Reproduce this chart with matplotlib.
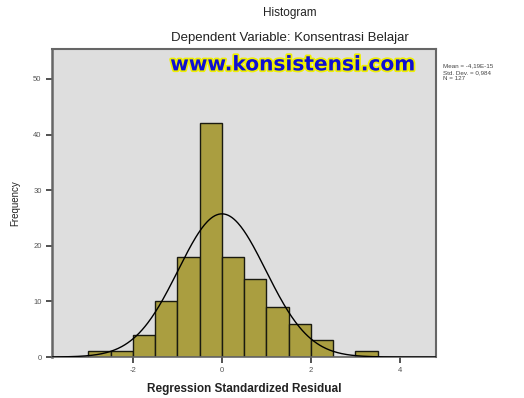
import numpy as np
import matplotlib
matplotlib.use("Agg")
import matplotlib.pyplot as plt
import matplotlib.patheffects as pe

# residual histogram bins (width 0.5) and counts
bin_edges = [-3.0, -2.5, -2.0, -1.5, -1.0, -0.5, 0.0, 0.5, 1.0, 1.5, 2.0, 2.5, 3.0, 3.5]
counts = [1, 1, 4, 10, 18, 42, 18, 14, 9, 6, 3, 0, 1]

mean = 0.0
std_dev = 0.984
n_cases = 127

x_ticks = [-2, 0, 2, 4]
y_ticks = [0, 10, 20, 30, 40, 50]

plt.rcParams["font.family"] = ["Liberation Sans", "DejaVu Sans"]
plt.rcParams["axes.unicode_minus"] = False

fig = plt.figure(figsize=(5.24, 3.98), dpi=100)
ax = fig.add_axes([0.0992, 0.103, 0.7328, 0.774])
ax.set_facecolor("#dedede")

lefts = bin_edges[:-1]
widths = np.diff(bin_edges)
ax.bar(lefts, counts, width=widths, align="edge",
       color="#aa9e40", edgecolor="#1a1a10", linewidth=1.0, zorder=2)

# fitted normal curve scaled to the histogram
xs = np.linspace(-3.8, 4.8, 400)
bw = widths[0]
pdf = np.exp(-0.5 * ((xs - mean) / std_dev) ** 2) / (std_dev * np.sqrt(2 * np.pi))
ax.plot(xs, n_cases * bw * pdf, color="black", linewidth=1.0, zorder=3)

ax.set_xlim(-3.82, 4.81)
ax.set_ylim(0, 55.4)
ax.set_xticks(x_ticks)
ax.set_yticks(y_ticks)
ax.tick_params(axis="both", direction="out", length=4, width=1.2,
               labelsize=5.5, labelcolor="#555555", color="#333333")

for side in ["top", "right", "left", "bottom"]:
    ax.spines[side].set_color("#666666")
ax.spines["left"].set_linewidth(1.8)
ax.spines["bottom"].set_linewidth(1.2)
ax.spines["top"].set_linewidth(1.5)
ax.spines["right"].set_linewidth(1.5)

ax.set_xlabel("Regression Standardized Residual", fontsize=8.5,
              fontweight="bold", color="#222222", labelpad=6)
ax.set_ylabel("Frequency", fontsize=7, color="#222222", labelpad=9)

fig.text(0.553, 0.968, "Histogram", ha="center", va="center",
         fontsize=8.5, color="#222222")
fig.text(0.553, 0.905, "Dependent Variable: Konsentrasi Belajar",
         ha="center", va="center", fontsize=9.5, color="#222222")

fig.text(0.559, 0.837, "www.konsistensi.com", ha="center", va="center",
         fontsize=14.5, fontweight="bold", family="DejaVu Sans",
         color="#1010d0",
         path_effects=[pe.withStroke(linewidth=2.5, foreground="#f0f000")])

stats = "Mean = -4,19E-15\nStd. Dev. = 0,984\nN = 127"
fig.text(0.845, 0.84, stats, ha="left", va="top", fontsize=4.5,
         color="#444444", linespacing=1.35)

fig.savefig("out.png", dpi=100, facecolor="white")
